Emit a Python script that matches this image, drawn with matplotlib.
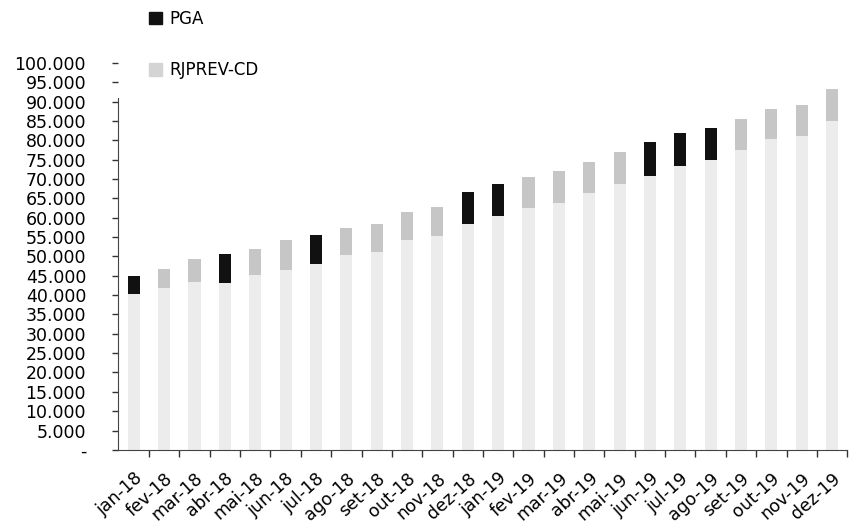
import matplotlib
matplotlib.use("Agg")
import matplotlib.pyplot as plt
from matplotlib.patches import Patch
import numpy as np

months = ["jan-18", "fev-18", "mar-18", "abr-18", "mai-18", "jun-18", "jul-18", "ago-18",
          "set-18", "out-18", "nov-18", "dez-18", "jan-19", "fev-19", "mar-19", "abr-19",
          "mai-19", "jun-19", "jul-19", "ago-19", "set-19", "out-19", "nov-19", "dez-19"]
base = [40300, 41800, 43500, 43200, 45300, 46500, 48000, 50400,
        51000, 54200, 55200, 58300, 60400, 62500, 63800, 66300,
        68800, 70700, 73300, 74800, 77400, 80200, 81000, 85000]
rjprev_cd = [0, 5000, 5800, 0, 6700, 7700, 0, 6900,
             7400, 7300, 7600, 0, 0, 8100, 8200, 8000,
             8200, 0, 0, 0, 8000, 7800, 8200, 8200]
pga = [4500, 0, 0, 7300, 0, 0, 7500, 0,
       0, 0, 0, 8400, 8300, 0, 0, 0,
       0, 8800, 8500, 8300, 0, 0, 0, 0]
yticks = list(range(0, 100001, 5000))

def fmt(v):
    return "-" if v == 0 else f"{v:,}".replace(",", ".")

fig = plt.figure(figsize=(8.49, 5.28), dpi=100)
ax = fig.add_axes([0.139, 0.148, 0.859, 0.733])

x = np.arange(len(months))
w = 0.4
base_a = np.array(base)
r_a = np.array(rjprev_cd)
p_a = np.array(pga)
ax.bar(x, base_a, w, color="#ececec", edgecolor="none")
ax.bar(x, r_a, w, bottom=base_a, color="#c6c6c6", edgecolor="none")
ax.bar(x, p_a, w, bottom=base_a + r_a, color="#111111", edgecolor="none")

ax.set_ylim(0, 100000)
ax.set_xlim(-0.52, 23.26)
ax.set_yticks(yticks)
ax.set_yticklabels([fmt(v) for v in yticks], fontsize=12.5)
ax.tick_params(axis="y", length=4, width=1, pad=19, color="#333333")

ax.set_xticks(x + 0.5)
ax.set_xticklabels([])
ax.tick_params(axis="x", which="major", length=5, width=1, direction="out", color="#333333")
ax.set_xticks(x, minor=True)
ax.set_xticklabels(months, minor=True, rotation=42, ha="right", rotation_mode="anchor", fontsize=12.5)
ax.tick_params(axis="x", which="minor", length=0, pad=14)

for s in ["top", "right"]:
    ax.spines[s].set_visible(False)
ax.spines["left"].set_bounds(0, 91000)
ax.spines["left"].set_color("#444444")
ax.spines["bottom"].set_color("#444444")

handles = [Patch(color="#111111", label="PGA"), Patch(color="#d4d4d4", label="RJPREV-CD")]
fig.legend(handles=handles, loc="upper left", bbox_to_anchor=(0.158, 1.01), frameon=False,
           fontsize=12, labelspacing=2.0, handlelength=0.8, handleheight=0.8, handletextpad=0.4)

fig.savefig("out.png", dpi=100)
